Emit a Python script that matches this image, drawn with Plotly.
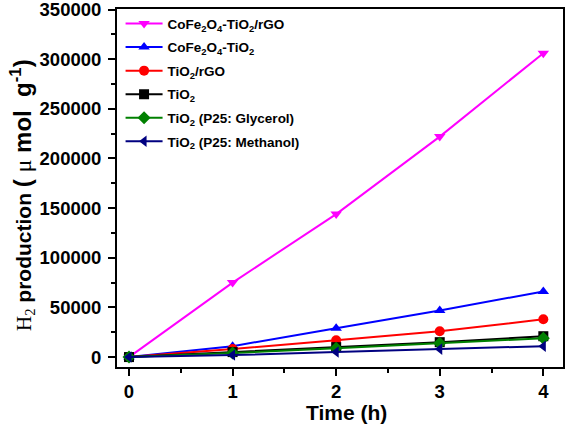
import plotly.graph_objects as go

time_h = [0, 1, 2, 3, 4]
names = ["CoFe<sub>2</sub>O<sub>4</sub>-TiO<sub>2</sub>/rGO",
         "CoFe<sub>2</sub>O<sub>4</sub>-TiO<sub>2</sub>",
         "TiO<sub>2</sub>/rGO",
         "TiO<sub>2</sub>",
         "TiO<sub>2</sub> (P25: Glycerol)",
         "TiO<sub>2</sub> (P25: Methanol)"]
cofe_tio2_rgo = [0, 75000, 144000, 222000, 306000]
cofe_tio2 = [0, 11000, 29000, 47000, 66000]
tio2_rgo = [0, 8000, 17000, 26000, 38000]
tio2 = [0, 5000, 10000, 15000, 21000]
tio2_glycerol = [0, 4000, 9000, 14000, 19000]
tio2_methanol = [0, 2000, 5000, 8000, 11000]
y_ticks = [0, 50000, 100000, 150000, 200000, 250000, 300000, 350000]
y_ticktext = ["0", "50000", "100000", "150000", "200000", "250000", "300000", "350000"]
x_ticks = [0, 1, 2, 3, 4]
x_title = "Time (h)"
NB = "\u00a0"
y_title = ("<span style=\"font-family:'Liberation Serif';font-weight:normal\">H<sub>2</sub></span>"
           " production "
           "<span style=\"font-size:24px\">(" + NB + "</span>"
           "<span style=\"font-family:'Liberation Serif';font-weight:normal;font-size:24px\">μ</span>"
           "<span style=\"font-size:24px\">" + NB + "mol" + NB + NB + "g</span>"
           "<span style=\"font-size:24px\"><sup>-1</sup></span>"
           "<span style=\"font-size:24px\">)</span>")

series = [cofe_tio2_rgo, cofe_tio2, tio2_rgo, tio2, tio2_glycerol, tio2_methanol]
colors = ["#FF00FF", "#0000FF", "#FF0000", "#000000", "#008000", "#000080"]
symbols = ["triangle-down", "triangle-up", "circle", "square", "diamond", "triangle-left"]

fig = go.Figure()
for i, (n, s, c, m) in enumerate(zip(names, series, colors, symbols)):
    fig.add_trace(go.Scatter(x=time_h, y=s, name=n, mode="lines+markers",
                             legendgroup="g%d" % i,
                             line=dict(color=c, width=2),
                             marker=dict(symbol=m, size=10, color=c)))

fig.add_annotation(text=x_title, xref="paper", yref="paper", x=0.5, y=0,
                   xanchor="center", yanchor="middle", xshift=6, yshift=-45,
                   showarrow=False, font=dict(size=21, weight="bold"))
fig.add_annotation(text=y_title, xref="paper", yref="paper", x=0, y=0.5,
                   xanchor="center", yanchor="middle", xshift=-95, yshift=-7,
                   textangle=-90, showarrow=False, font=dict(size=21, weight="bold"))

fig.update_layout(
    width=566, height=426,
    margin=dict(l=117, r=3, t=9, b=59, autoexpand=False),
    paper_bgcolor="white", plot_bgcolor="white",
    font=dict(family="Arial, Liberation Sans", color="black"),
    showlegend=True,
    legend=dict(x=0.008, y=1.002, xanchor="left", yanchor="top",
                bgcolor="rgba(0,0,0,0)", font=dict(size=13.5, weight="bold"),
                tracegroupgap=3, itemwidth=37),
    xaxis=dict(range=[-0.116, 4.19], tickvals=x_ticks,
               showline=True, linecolor="black", linewidth=2, mirror=True,
               ticks="outside", ticklen=7, tickwidth=2, tickcolor="black",
               showgrid=False, zeroline=False, ticklabeloverflow="allow",
               tickfont=dict(size=18.5, weight="bold"),
               minor=dict(tickvals=[0.5, 1.5, 2.5, 3.5], ticks="outside", ticklen=4, tickwidth=2, tickcolor="black")),
    yaxis=dict(range=[-10000, 350500], tickvals=y_ticks, ticktext=y_ticktext,
               showline=True, linecolor="black", linewidth=2, mirror=True,
               ticks="outside", ticklen=7, tickwidth=2, tickcolor="black",
               showgrid=False, zeroline=False, ticklabeloverflow="allow",
               ticklabelstandoff=3,
               tickfont=dict(size=18.5, weight="bold"),
               minor=dict(tickvals=[25000, 75000, 125000, 175000, 225000, 275000, 325000], ticks="outside", ticklen=4, tickwidth=2, tickcolor="black")),
)

fig.write_html("out.html", config={"displayModeBar": False},
               post_script="document.body.style.margin='0';document.body.style.overflow='hidden';")
